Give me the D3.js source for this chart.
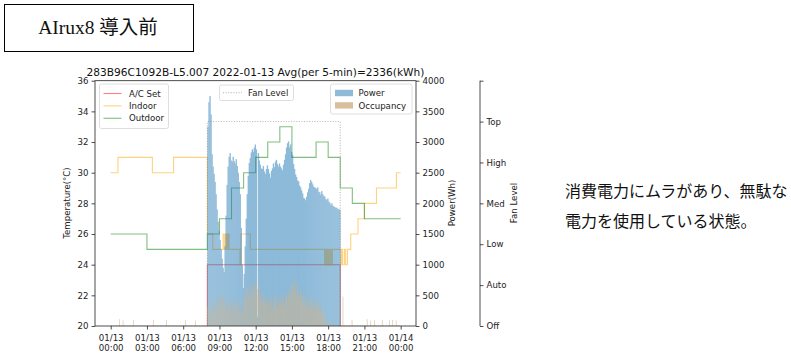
<!DOCTYPE html>
<html><head><meta charset="utf-8">
<script src="https://cdn.jsdelivr.net/npm/d3@7"></script>
<style>body{margin:0;background:#fff;} svg{display:block;}</style>
</head><body><svg id="c" width="791" height="356"></svg>
<script>
// ---------------- data ----------------
const chartTitle = "283B96C1092B-L5.007 2022-01-13 Avg(per 5-min)=2336(kWh)";
const headerText = "AIrux8 導入前";
const noteLines = ["消費電力にムラがあり、無駄な", "電力を使用している状態。"];

const xTickHours = [0, 3, 6, 9, 12, 15, 18, 21, 24];
const xTickDates = ["01/13","01/13","01/13","01/13","01/13","01/13","01/13","01/13","01/14"];
const xTickTimes = ["00:00","03:00","06:00","09:00","12:00","15:00","18:00","21:00","00:00"];
const tempTicks = [20, 22, 24, 26, 28, 30, 32, 34, 36];
const powerTicks = [0, 500, 1000, 1500, 2000, 2500, 3000, 3500, 4000];
const fanTickLabels = ["Off", "Auto", "Low", "Med", "High", "Top", ""];

const acSetHours = [0, 8, 19, 24];
const acSetTemp  = [0, 24, 0, 0];

const fanHours = [0, 8, 19, 24];
const fanLevel = [0, 5, 0, 0];

const outdoorHours = [0, 3, 8, 9, 10, 11, 12, 13, 14, 15, 17, 18, 19, 20, 21, 24];
const outdoorTemp  = [26, 25, 26, 27, 29, 30, 31, 32, 33, 31, 32, 31, 29, 28, 27, 27];

const indoorHours = [0, 0.6, 3.45, 5.2, 8.0, 8.45, 9.3, 9.4, 9.5, 9.6, 9.7, 9.8, 10.7, 10.78, 11.55,
  17.7, 17.75, 17.8, 17.85, 17.9, 17.95, 18.0, 18.05, 18.1, 18.15, 18.2, 18.25, 18.3, 18.35,
  19.05, 19.12, 19.2, 19.35, 19.45, 19.6, 19.87, 20.47, 21.0, 22.0, 23.65, 24.0];
const indoorTemp = [30, 31, 30, 31, 26, 25, 26, 25, 26, 25, 26, 25, 24, 26, 25,
  24, 25, 24, 25, 24, 25, 24, 25, 24, 25, 24, 25, 24, 25,
  24, 25, 24, 25, 24, 25, 26, 27, 28, 29, 30, 30];

// Power (Wh) per 5 minutes, from 08:00 to 18:55
const powerStartHour = 8;
const power5min = [
  3250, 3650, 3750, 3450, 2800, 2600, 2480, 2350, 2150, 1900, 1700, 1550,
  1400, 1250, 1100, 950, 880, 1300, 1800, 2300, 2600, 2760, 2820, 2700,
  2680, 2760, 2690, 2650, 2720, 2610, 2500, 2350, 2150, 1600, 1000, 620,
  850, 1300, 1750, 2150, 2450, 2660, 2740, 2830, 2880, 2840, 2910, 2960,
  2880, 150, 2820, 2700, 2630, 2570, 2560, 2610, 2520, 2480, 2560, 2620,
  2560, 2490, 2420, 2530, 2570, 2650, 2590, 2680, 2710, 2640, 2600, 2650,
  2600, 2570, 2540, 2630, 2710, 2800, 2910, 2980, 3010, 2910, 2960, 2840,
  2790, 2640, 2560, 2470, 2430, 2370, 2360, 2290, 2260, 2210, 2160, 2090,
  2080, 2050, 2110, 2180, 2240, 2330, 2380, 2350, 2310, 2270, 2260, 2250,
  2230, 2260, 2190, 2180, 2140, 2200, 2150, 2120, 2110, 2070, 2050, 2080,
  2030, 2010, 1970, 2000, 1960, 1950, 1940, 1920, 1930, 1900, 1910, 1890
];

// Occupancy per 5 minutes, from 08:00 to 18:55
const occ5min = [
  320, 180, 410, 250, 150, 380, 290, 200, 430, 310, 260, 520,
  380, 450, 300, 520, 410, 280, 350, 460, 330, 250, 400, 300,
  280, 420, 350, 200, 380, 450, 260, 330, 180, 300, 250, 400,
  480, 560, 420, 620, 500, 650, 580, 450, 700, 620, 520, 680,
  720, 600, 500, 650, 450, 550, 400, 520, 380, 480, 350, 430,
  380, 500, 320, 450, 280, 420, 500, 350, 480, 300, 420, 380,
  450, 350, 520, 400, 300, 480, 550, 420, 500, 600, 450, 650,
  700, 560, 760, 620, 500, 680, 550, 450, 600, 480, 380, 520,
  450, 350, 500, 300, 420, 280, 380, 480, 320, 250, 400, 350,
  300, 420, 250, 380, 200, 330, 280, 150, 220, 0, 100, 0,
  0, 80, 0, 0, 60, 0, 0, 0, 0, 0, 0, 0
];
// Occupancy outside working hours
const occOffHours  = [0.7, 1.0, 1.85, 3.5, 4.6, 6.15, 7.0, 19.2, 19.95, 21.2, 21.5, 21.8, 22.45, 23.05, 23.3, 23.6];
const occOffValues = [110, 90, 100, 100, 95, 100, 90, 480, 100, 110, 90, 100, 100, 95, 100, 90];

// ---------------- drawing ----------------
const svg = d3.select("#c");
const L = 95, R = 416, T = 80.7, B = 326;
const FANX = 480;
const tickFont = "DejaVu Sans, sans-serif";
const fs = 8.6;

const x = d3.scaleLinear().domain([-1.3, 25.27]).range([L, R]);
const yT = d3.scaleLinear().domain([20, 36]).range([B, T]);
const yP = d3.scaleLinear().domain([0, 4000]).range([B, T]);
const yF = d3.scaleLinear().domain([0, 6]).range([B, T]);

// header box
svg.append("rect").attr("x", 4.5).attr("y", 4.5).attr("width", 189).attr("height", 47)
  .attr("fill", "none").attr("stroke", "#000").attr("stroke-width", 1);
svg.append("text").attr("x", 98).attr("y", 34).attr("text-anchor", "middle")
  .attr("font-family", "Liberation Serif, Noto Sans CJK JP, serif").attr("font-size", 19.5)
  .attr("fill", "#111").text(headerText);

// note text
noteLines.forEach((t, i) => {
  svg.append("text").attr("x", 565).attr("y", 196.5 + i * 30.5)
    .attr("font-family", "Noto Sans CJK JP, sans-serif").attr("font-size", 16)
    .attr("fill", "#111").text(t);
});

// clip
svg.append("clipPath").attr("id", "clip").append("rect")
  .attr("x", L).attr("y", T).attr("width", R - L).attr("height", B - T);
const plot = svg.append("g").attr("clip-path", "url(#clip)");

const stepLine = (xs, ys, ysc) => d3.line().curve(d3.curveStepAfter)
  .x((d, i) => x(xs[i])).y((d, i) => ysc(ys[i]))(ys);

// temperature lines (under the bars)
plot.append("path").attr("d", stepLine(acSetHours, acSetTemp, yT))
  .attr("fill", "none").attr("stroke", "red").attr("stroke-opacity", 0.5).attr("stroke-width", 1.1);
plot.append("path").attr("d", stepLine(indoorHours, indoorTemp, yT))
  .attr("fill", "none").attr("stroke", "orange").attr("stroke-opacity", 0.5).attr("stroke-width", 1.1);
plot.append("path").attr("d", stepLine(outdoorHours, outdoorTemp, yT))
  .attr("fill", "none").attr("stroke", "green").attr("stroke-opacity", 0.5).attr("stroke-width", 1.1);

// power bars
const bw = x(5 / 60) - x(0);
const pg = plot.append("g").attr("opacity", 0.5);
pg.selectAll("rect").data(power5min).join("rect")
  .attr("x", (d, i) => x(powerStartHour + i / 12))
  .attr("width", bw + 0.35)
  .attr("y", d => yP(d)).attr("height", d => B - yP(d))
  .attr("fill", "#1f77b4");

// occupancy bars
const og = plot.append("g").attr("opacity", 0.85);
og.selectAll("rect.d").data(occ5min).join("rect").attr("class", "d")
  .attr("x", (d, i) => x(powerStartHour + i / 12) + bw * 0.2)
  .attr("width", bw * 0.6)
  .attr("y", d => yP(d)).attr("height", d => B - yP(d))
  .attr("fill", "#d2b48c");
og.selectAll("rect.o").data(occOffValues).join("rect").attr("class", "o")
  .attr("x", (d, i) => x(occOffHours[i]))
  .attr("width", bw * 0.6)
  .attr("y", d => yP(d)).attr("height", d => B - yP(d))
  .attr("fill", "#d2b48c");

// fan level (third axis)
plot.append("path").attr("d", stepLine(fanHours, fanLevel, yF))
  .attr("fill", "none").attr("stroke", "grey").attr("stroke-opacity", 0.6)
  .attr("stroke-width", 1).attr("stroke-dasharray", "1,1.6");

// axes
function styleAxis(g) {
  g.selectAll("text").attr("font-family", tickFont).attr("font-size", fs).attr("fill", "#222");
  g.selectAll("line").attr("stroke", "#222").attr("stroke-width", 0.8);
  g.select(".domain").remove();
}
const axL = svg.append("g").attr("transform", `translate(${L},0)`)
  .call(d3.axisLeft(yT).tickValues(tempTicks).tickSize(3.5).tickPadding(3).tickFormat(d3.format("d")));
styleAxis(axL);
const axR = svg.append("g").attr("transform", `translate(${R},0)`)
  .call(d3.axisRight(yP).tickValues(powerTicks).tickSize(3.5).tickPadding(3).tickFormat(d3.format("d")));
styleAxis(axR);
const axF = svg.append("g").attr("transform", `translate(${FANX},0)`)
  .call(d3.axisRight(yF).tickValues(d3.range(fanTickLabels.length)).tickSize(3.5).tickPadding(3)
    .tickFormat((d, i) => fanTickLabels[i]));
styleAxis(axF);
svg.append("line").attr("x1", FANX).attr("x2", FANX).attr("y1", T).attr("y2", B)
  .attr("stroke", "#222").attr("stroke-width", 0.8);

const axB = svg.append("g").attr("transform", `translate(0,${B})`)
  .call(d3.axisBottom(x).tickValues(xTickHours).tickSize(3.5).tickFormat(() => ""));
styleAxis(axB);
axB.selectAll(".tick").each(function (d, i) {
  const t = d3.select(this).select("text").text(null).attr("y", null).attr("dy", null);
  t.append("tspan").attr("x", 0).attr("y", 14.6).text(xTickDates[i]);
  t.append("tspan").attr("x", 0).attr("y", 24.8).text(xTickTimes[i]);
});

// frame
svg.append("rect").attr("x", L).attr("y", T).attr("width", R - L).attr("height", B - T)
  .attr("fill", "none").attr("stroke", "#222").attr("stroke-width", 0.8);

// axis labels
const lab = (t, cx, cy) => svg.append("text").attr("transform", `translate(${cx},${cy}) rotate(-90)`)
  .attr("text-anchor", "middle").attr("font-family", tickFont).attr("font-size", fs).attr("fill", "#222").text(t);
lab("Temperature(°C)", 70, 203);
lab("Power(Wh)", 455, 203);
lab("Fan Level", 517, 203);

// title
svg.append("text").attr("x", (L + R) / 2).attr("y", 75.5).attr("text-anchor", "middle")
  .attr("font-family", tickFont).attr("font-size", 10.6).attr("fill", "#111").text(chartTitle);

// legends
function legendBox(x0, y0, w, h) {
  svg.append("rect").attr("x", x0).attr("y", y0).attr("width", w).attr("height", h).attr("rx", 2)
    .attr("fill", "#fff").attr("fill-opacity", 0.8).attr("stroke", "#d6d6d6").attr("stroke-width", 0.8);
}
const legText = (t, lx, ly) => svg.append("text").attr("x", lx).attr("y", ly + 3.1)
  .attr("font-family", tickFont).attr("font-size", fs).attr("fill", "#222").text(t);

legendBox(99.5, 84, 69, 44.5);
const lineLeg = [["A/C Set", "red", 0.5], ["Indoor", "orange", 0.5], ["Outdoor", "green", 0.5]];
lineLeg.forEach((e, i) => {
  const ly = 93.5 + i * 12.4;
  svg.append("line").attr("x1", 103.5).attr("x2", 121.5).attr("y1", ly).attr("y2", ly)
    .attr("stroke", e[1]).attr("stroke-opacity", e[2]).attr("stroke-width", 1.1);
  legText(e[0], 129, ly);
});

legendBox(219.5, 85, 74, 15.5);
svg.append("line").attr("x1", 223).attr("x2", 242).attr("y1", 92.7).attr("y2", 92.7)
  .attr("stroke", "grey").attr("stroke-opacity", 0.6).attr("stroke-dasharray", "1,1.6");
legText("Fan Level", 248, 92.7);

legendBox(330.5, 84, 81.5, 30);
const patchLeg = [["Power", "#1f77b4", 0.5], ["Occupancy", "#d2b48c", 0.85]];
patchLeg.forEach((e, i) => {
  const ly = 93 + i * 12.4;
  svg.append("rect").attr("x", 335).attr("y", ly - 3.2).attr("width", 18).attr("height", 6.4)
    .attr("fill", e[1]).attr("fill-opacity", e[2]);
  legText(e[0], 358.5, ly);
});
</script>
</body></html>
